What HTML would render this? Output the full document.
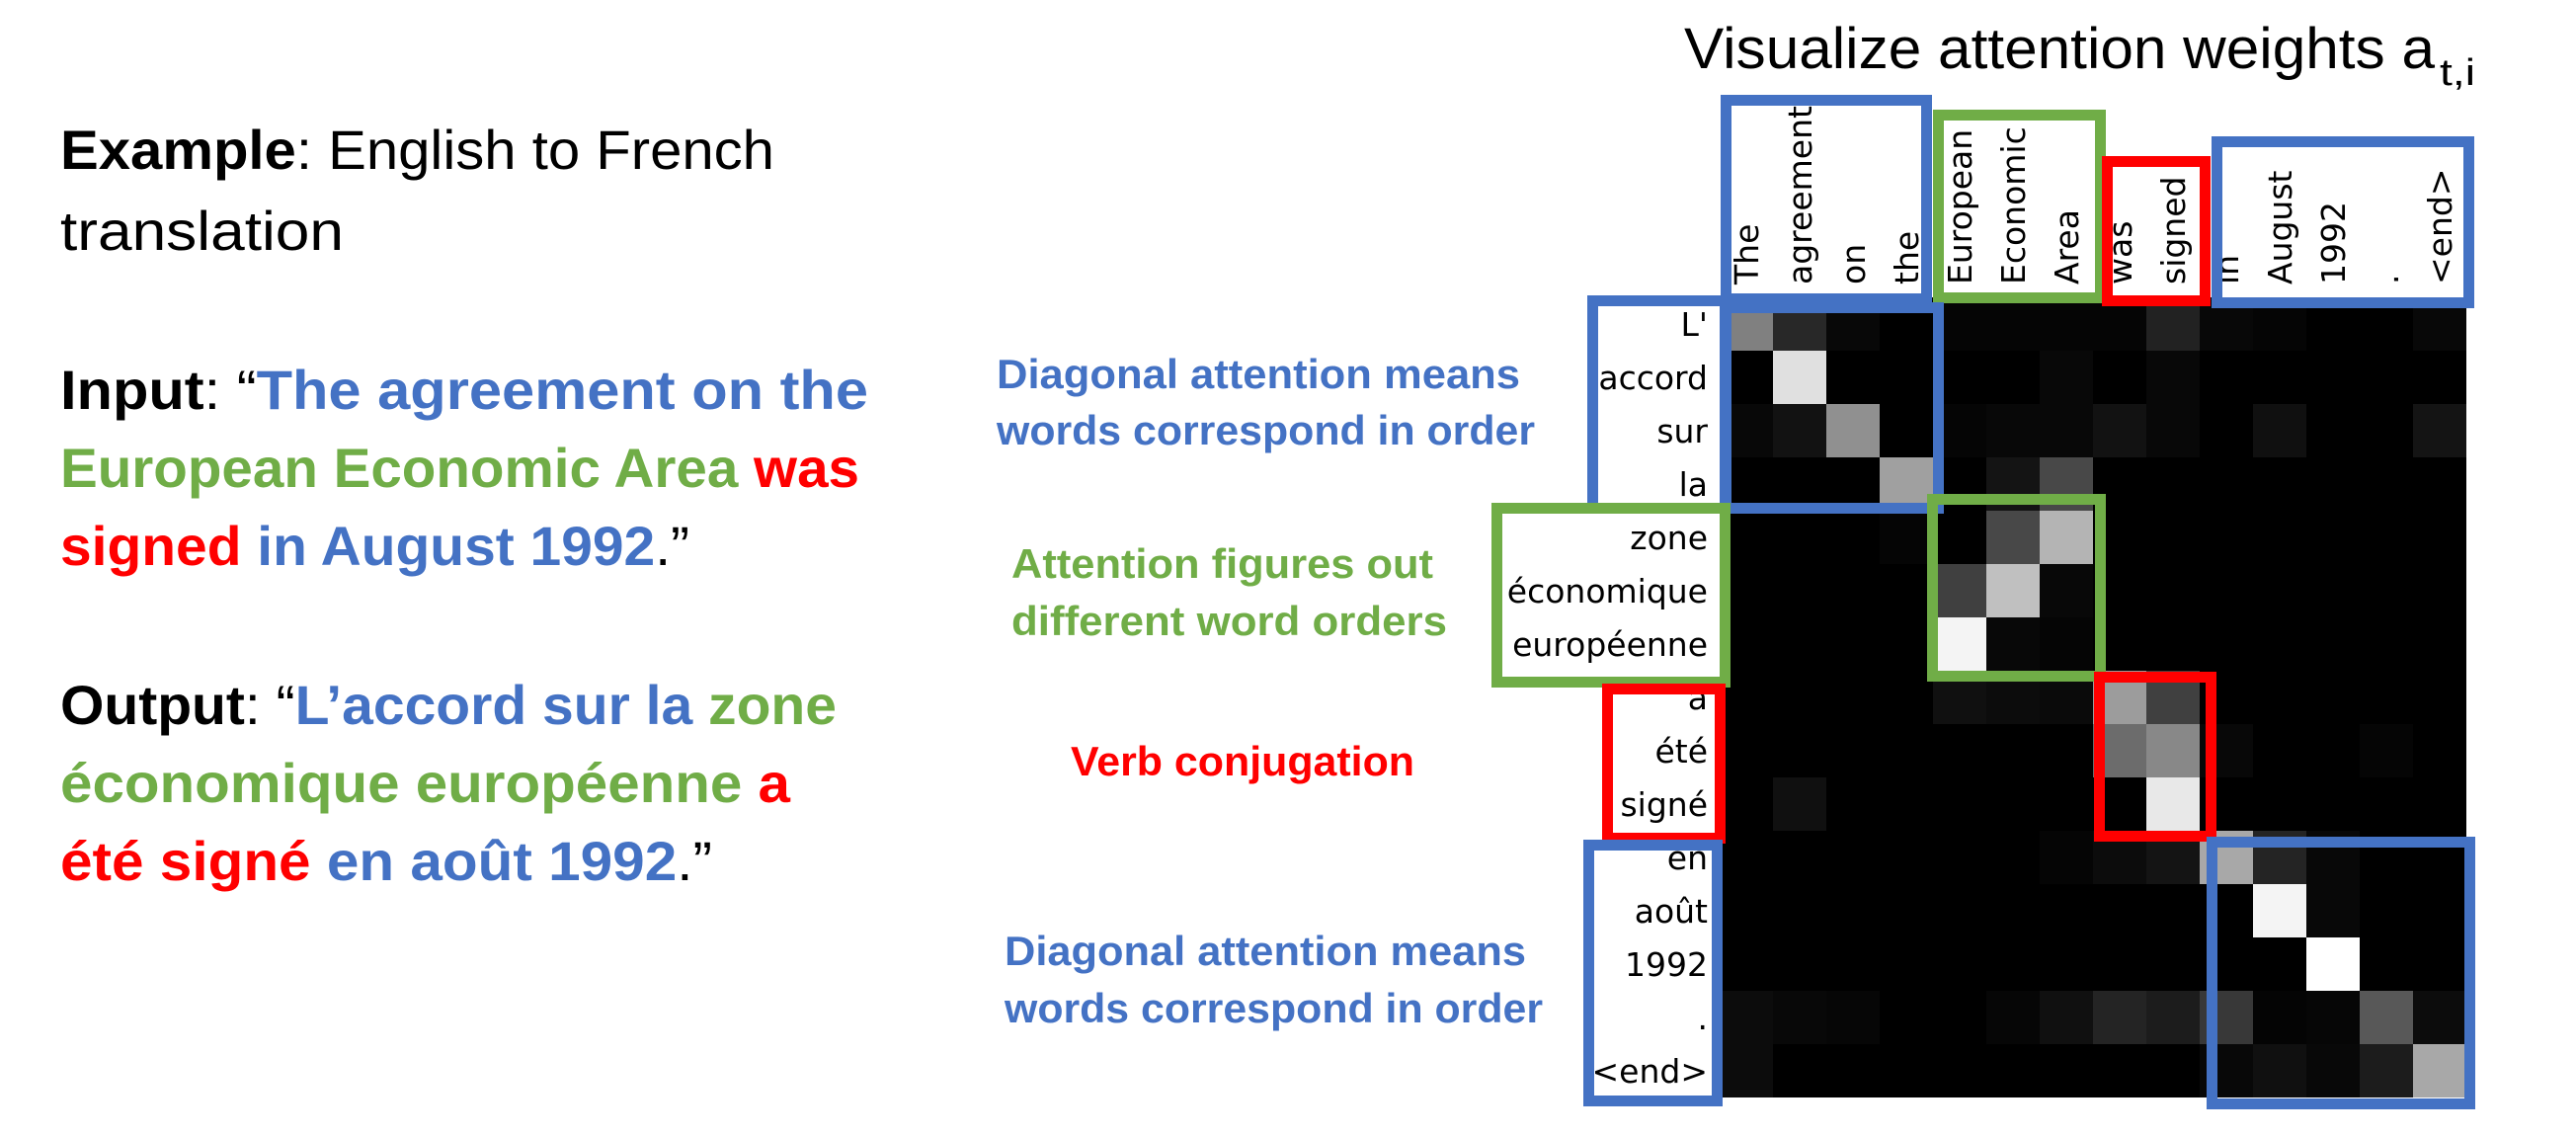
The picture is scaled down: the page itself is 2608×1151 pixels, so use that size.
<!DOCTYPE html>
<html><head><meta charset="utf-8"><style>html,body{margin:0;padding:0;background:#fff}svg{display:block}</style></head>
<body>
<svg width="2608" height="1151" viewBox="0 0 2608 1151" xmlns="http://www.w3.org/2000/svg">
<rect width="2608" height="1151" fill="#fff"/>
<g font-family="Liberation Sans, sans-serif" font-size="56">
<text x="61" y="171" textLength="723" lengthAdjust="spacingAndGlyphs"><tspan font-weight="bold">Example</tspan>: English to French</text>
<text x="61" y="253" textLength="287" lengthAdjust="spacingAndGlyphs">translation</text>
<text x="61" y="414" textLength="818" lengthAdjust="spacingAndGlyphs"><tspan font-weight="bold">Input</tspan>: “<tspan font-weight="bold" fill="#4472C4">The agreement on the</tspan></text>
<text x="61" y="493" textLength="809" lengthAdjust="spacingAndGlyphs" font-weight="bold"><tspan fill="#70AD47">European Economic Area</tspan> <tspan fill="#FF0000">was</tspan></text>
<text x="61" y="572" textLength="637" lengthAdjust="spacingAndGlyphs"><tspan font-weight="bold" fill="#FF0000">signed</tspan> <tspan font-weight="bold" fill="#4472C4">in August 1992</tspan>.”</text>
<text x="61" y="733" textLength="786" lengthAdjust="spacingAndGlyphs"><tspan font-weight="bold">Output</tspan>: “<tspan font-weight="bold" fill="#4472C4">L’accord sur la</tspan> <tspan font-weight="bold" fill="#70AD47">zone</tspan></text>
<text x="61" y="812" textLength="739" lengthAdjust="spacingAndGlyphs" font-weight="bold"><tspan fill="#70AD47">économique européenne</tspan> <tspan fill="#FF0000">a</tspan></text>
<text x="61" y="891" textLength="660" lengthAdjust="spacingAndGlyphs"><tspan font-weight="bold" fill="#FF0000">été signé</tspan> <tspan font-weight="bold" fill="#4472C4">en août 1992</tspan>.”</text>
</g>
<g font-family="Liberation Sans, sans-serif" font-size="42" font-weight="bold">
<text x="1009" y="393" textLength="530" lengthAdjust="spacingAndGlyphs" fill="#4472C4">Diagonal attention means</text>
<text x="1009" y="450" textLength="545" lengthAdjust="spacingAndGlyphs" fill="#4472C4">words correspond in order</text>
<text x="1024" y="585" textLength="427" lengthAdjust="spacingAndGlyphs" fill="#70AD47">Attention figures out</text>
<text x="1024" y="643" textLength="441" lengthAdjust="spacingAndGlyphs" fill="#70AD47">different word orders</text>
<text x="1084" y="785" textLength="348" lengthAdjust="spacingAndGlyphs" fill="#FF0000">Verb conjugation</text>
<text x="1017" y="977" textLength="528" lengthAdjust="spacingAndGlyphs" fill="#4472C4">Diagonal attention means</text>
<text x="1017" y="1035" textLength="545" lengthAdjust="spacingAndGlyphs" fill="#4472C4">words correspond in order</text>
</g>
<text x="1705" y="69" font-family="Liberation Sans, sans-serif" font-size="58" textLength="760" lengthAdjust="spacingAndGlyphs">Visualize attention weights a</text>
<text x="2470" y="86" font-family="Liberation Sans, sans-serif" font-size="38" textLength="36" lengthAdjust="spacingAndGlyphs">t,i</text>
<rect x="1741" y="301" width="756" height="810" fill="#000"/>
<g>
<rect x="1741" y="301" width="54" height="54" fill="#808080"/>
<rect x="1795" y="301" width="54" height="54" fill="#282828"/>
<rect x="1849" y="301" width="54" height="54" fill="#080808"/>
<rect x="1957" y="301" width="216" height="54" fill="#050505"/>
<rect x="2173" y="301" width="54" height="54" fill="#222"/>
<rect x="2227" y="301" width="54" height="54" fill="#080808"/>
<rect x="2281" y="301" width="54" height="54" fill="#050505"/>
<rect x="2443" y="301" width="54" height="54" fill="#080808"/>
<rect x="1795" y="355" width="54" height="54" fill="#e0e0e0"/>
<rect x="2065" y="355" width="54" height="54" fill="#080808"/>
<rect x="2173" y="355" width="54" height="54" fill="#080808"/>
<rect x="1741" y="409" width="54" height="54" fill="#080808"/>
<rect x="1795" y="409" width="54" height="54" fill="#121212"/>
<rect x="1849" y="409" width="54" height="54" fill="#909090"/>
<rect x="1957" y="409" width="54" height="54" fill="#050505"/>
<rect x="2011" y="409" width="108" height="54" fill="#080808"/>
<rect x="2119" y="409" width="54" height="54" fill="#121212"/>
<rect x="2173" y="409" width="54" height="54" fill="#080808"/>
<rect x="2281" y="409" width="54" height="54" fill="#101010"/>
<rect x="2443" y="409" width="54" height="54" fill="#141414"/>
<rect x="1903" y="463" width="54" height="54" fill="#a0a0a0"/>
<rect x="2011" y="463" width="54" height="54" fill="#141414"/>
<rect x="2065" y="463" width="54" height="54" fill="#484848"/>
<rect x="1903" y="517" width="54" height="54" fill="#050505"/>
<rect x="2011" y="517" width="54" height="54" fill="#484848"/>
<rect x="2065" y="517" width="54" height="54" fill="#b4b4b4"/>
<rect x="1957" y="571" width="54" height="54" fill="#404040"/>
<rect x="2011" y="571" width="54" height="54" fill="#c0c0c0"/>
<rect x="2065" y="571" width="54" height="54" fill="#080808"/>
<rect x="1957" y="625" width="54" height="54" fill="#f4f4f4"/>
<rect x="2011" y="625" width="54" height="54" fill="#080808"/>
<rect x="2065" y="625" width="54" height="54" fill="#050505"/>
<rect x="1957" y="679" width="54" height="54" fill="#101010"/>
<rect x="2011" y="679" width="54" height="54" fill="#0c0c0c"/>
<rect x="2065" y="679" width="54" height="54" fill="#0a0a0a"/>
<rect x="2119" y="679" width="54" height="54" fill="#9c9c9c"/>
<rect x="2173" y="679" width="54" height="54" fill="#404040"/>
<rect x="2119" y="733" width="54" height="54" fill="#6c6c6c"/>
<rect x="2173" y="733" width="54" height="54" fill="#888"/>
<rect x="2227" y="733" width="54" height="54" fill="#080808"/>
<rect x="2389" y="733" width="54" height="54" fill="#050505"/>
<rect x="1795" y="787" width="54" height="54" fill="#101010"/>
<rect x="2173" y="787" width="54" height="54" fill="#e8e8e8"/>
<rect x="2065" y="841" width="54" height="54" fill="#050505"/>
<rect x="2119" y="841" width="54" height="54" fill="#0c0c0c"/>
<rect x="2173" y="841" width="54" height="54" fill="#141414"/>
<rect x="2227" y="841" width="54" height="54" fill="#a8a8a8"/>
<rect x="2281" y="841" width="54" height="54" fill="#242424"/>
<rect x="2335" y="841" width="54" height="54" fill="#080808"/>
<rect x="2281" y="895" width="54" height="54" fill="#f4f4f4"/>
<rect x="2335" y="895" width="54" height="54" fill="#080808"/>
<rect x="2335" y="949" width="54" height="54" fill="#fff"/>
<rect x="1741" y="1003" width="54" height="54" fill="#0c0c0c"/>
<rect x="1795" y="1003" width="54" height="54" fill="#080808"/>
<rect x="1849" y="1003" width="54" height="54" fill="#060606"/>
<rect x="2011" y="1003" width="54" height="54" fill="#060606"/>
<rect x="2065" y="1003" width="54" height="54" fill="#101010"/>
<rect x="2119" y="1003" width="54" height="54" fill="#242424"/>
<rect x="2173" y="1003" width="54" height="54" fill="#1c1c1c"/>
<rect x="2227" y="1003" width="54" height="54" fill="#383838"/>
<rect x="2281" y="1003" width="54" height="54" fill="#040404"/>
<rect x="2335" y="1003" width="54" height="54" fill="#060606"/>
<rect x="2389" y="1003" width="54" height="54" fill="#585858"/>
<rect x="2443" y="1003" width="54" height="54" fill="#0c0c0c"/>
<rect x="1741" y="1057" width="54" height="54" fill="#0c0c0c"/>
<rect x="2227" y="1057" width="54" height="54" fill="#080808"/>
<rect x="2281" y="1057" width="54" height="54" fill="#101010"/>
<rect x="2335" y="1057" width="54" height="54" fill="#080808"/>
<rect x="2389" y="1057" width="54" height="54" fill="#1c1c1c"/>
<rect x="2443" y="1057" width="54" height="54" fill="#a8a8a8"/>
</g>
<g font-family="DejaVu Sans, sans-serif" font-size="33" text-anchor="end">
<text x="1729" y="340">L'</text>
<text x="1729" y="394">accord</text>
<text x="1729" y="448">sur</text>
<text x="1729" y="502">la</text>
<text x="1729" y="556">zone</text>
<text x="1729" y="610">économique</text>
<text x="1729" y="664">européenne</text>
<text x="1729" y="718">a</text>
<text x="1729" y="772">été</text>
<text x="1729" y="826">signé</text>
<text x="1729" y="880">en</text>
<text x="1729" y="934">août</text>
<text x="1729" y="988">1992</text>
<text x="1729" y="1042">.</text>
<text x="1729" y="1096">&lt;end&gt;</text>
</g>
<g font-family="DejaVu Sans, sans-serif" font-size="33">
<text transform="translate(1780,288) rotate(-90)">The</text>
<text transform="translate(1834,288) rotate(-90)">agreement</text>
<text transform="translate(1888,288) rotate(-90)">on</text>
<text transform="translate(1942,288) rotate(-90)">the</text>
<text transform="translate(1996,288) rotate(-90)">European</text>
<text transform="translate(2050,288) rotate(-90)">Economic</text>
<text transform="translate(2104,288) rotate(-90)">Area</text>
<text transform="translate(2158,288) rotate(-90)">was</text>
<text transform="translate(2212,288) rotate(-90)">signed</text>
<text transform="translate(2266,288) rotate(-90)">in</text>
<text transform="translate(2320,288) rotate(-90)">August</text>
<text transform="translate(2374,288) rotate(-90)">1992</text>
<text transform="translate(2428,288) rotate(-90)">.</text>
<text transform="translate(2482,288) rotate(-90)">&lt;end&gt;</text>
</g>
<g fill="none" stroke-width="11">
<rect x="1747.5" y="101.5" width="203" height="201" stroke="#4472C4"/>
<rect x="1962.5" y="116.5" width="164" height="185" stroke="#70AD47"/>
<rect x="2133.5" y="163.5" width="99" height="141" stroke="#FF0000"/>
<rect x="2244.5" y="143.5" width="255" height="163" stroke="#4472C4"/>
<rect x="1612.5" y="304.5" width="134" height="210" stroke="#4472C4"/>
<rect x="1747.5" y="311.5" width="215" height="203" stroke="#4472C4"/>
<rect x="1515.5" y="514.5" width="231" height="176" stroke="#70AD47"/>
<rect x="1956.5" y="505.5" width="170" height="179" stroke="#70AD47"/>
<rect x="1627.5" y="697.5" width="114" height="151" stroke="#FF0000"/>
<rect x="2125.5" y="685.5" width="113" height="161" stroke="#FF0000"/>
<rect x="1608.5" y="855.5" width="130" height="259" stroke="#4472C4"/>
<rect x="2239.5" y="852.5" width="261" height="265" stroke="#4472C4"/>
</g>
</svg>
</body></html>
